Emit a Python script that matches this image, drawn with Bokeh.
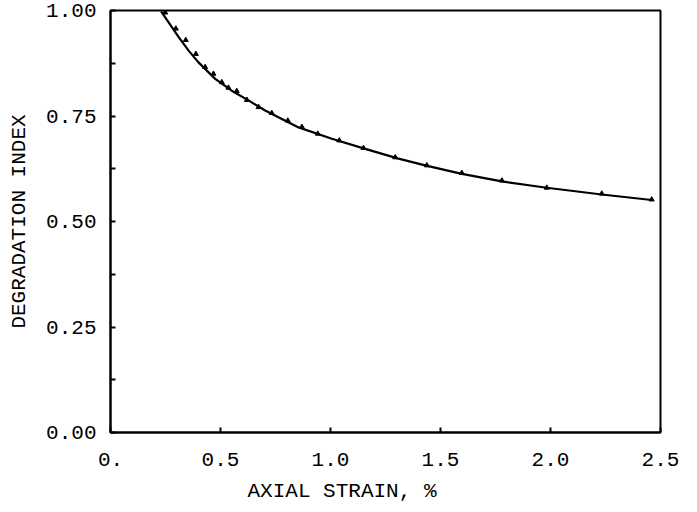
from bokeh.plotting import figure
from bokeh.models import FixedTicker, Range1d, Title
from bokeh.embed import file_html
from bokeh.resources import INLINE

# Curve (fitted line)
curve_x = [0.23, 0.31, 0.355, 0.40, 0.476, 0.551, 0.627, 0.703, 0.855, 1.006,
           1.158, 1.309, 1.43, 1.597, 1.779, 1.983, 2.233, 2.46]
curve_y = [0.998, 0.937, 0.905, 0.877, 0.838, 0.810, 0.787, 0.763, 0.723, 0.696,
           0.672, 0.649, 0.633, 0.613, 0.595, 0.580, 0.564, 0.551]

# Measured points (small marks on the curve)
pts_x = [0.249, 0.297, 0.342, 0.388, 0.43, 0.468, 0.506, 0.536, 0.574, 0.62,
         0.673, 0.733, 0.806, 0.87, 0.942, 1.04, 1.15, 1.294, 1.438, 1.597,
         1.779, 1.983, 2.233, 2.46]
pts_y = [0.995, 0.957, 0.93, 0.897, 0.866, 0.850, 0.830, 0.817, 0.809, 0.788,
         0.771, 0.757, 0.739, 0.724, 0.708, 0.692, 0.674, 0.652, 0.633, 0.615,
         0.597, 0.580, 0.566, 0.552]

x_ticks = [0.0, 0.5, 1.0, 1.5, 2.0, 2.5]
x_tick_labels = ["0.", "0.5", "1.0", "1.5", "2.0", "2.5"]
y_ticks = [0.0, 0.25, 0.5, 0.75, 1.0]
y_minor = [0.125, 0.375, 0.625, 0.875]
y_tick_labels = ["0.00", "0.25", "0.50", "0.75", "1.00"]

FONT = "Liberation Mono"

p = figure(width=689, height=512, output_backend="svg", toolbar_location=None,
           x_range=Range1d(0, 2.5), y_range=Range1d(0, 1.0),
           min_border_left=110, min_border_right=29, min_border_top=10,
           min_border_bottom=80)
p.background_fill_color = "white"
p.border_fill_color = "white"
p.xgrid.visible = False
p.ygrid.visible = False
p.outline_line_color = "black"
p.outline_line_width = 2

p.line(curve_x, curve_y, line_color="black", line_width=2.2)
p.scatter(pts_x, pts_y, marker="triangle", size=5, color="black")

xa = p.xaxis[0]
xa.ticker = FixedTicker(ticks=x_ticks, minor_ticks=[])
xa.major_label_overrides = {t: l for t, l in zip(x_ticks, x_tick_labels)}
xa.major_tick_in = 5
xa.major_tick_out = 0
xa.minor_tick_in = 0
xa.minor_tick_out = 0
xa.axis_line_width = 2
xa.major_tick_line_width = 2
xa.major_label_standoff = 20
xa.major_label_text_font = FONT
xa.major_label_text_font_size = "21px"
xa.major_label_text_color = "black"

ya = p.yaxis[0]
ya.ticker = FixedTicker(ticks=y_ticks, minor_ticks=y_minor)
ya.major_label_overrides = {t: l for t, l in zip(y_ticks, y_tick_labels)}
ya.major_tick_in = 5
ya.major_tick_out = 0
ya.minor_tick_in = 5
ya.minor_tick_out = 0
ya.axis_line_width = 2
ya.major_tick_line_width = 2
ya.minor_tick_line_width = 2
ya.minor_tick_line_color = "black"
ya.major_label_standoff = 14
ya.major_label_text_font = FONT
ya.major_label_text_font_size = "21px"
ya.major_label_text_color = "black"
ya.axis_label = "DEGRADATION INDEX"
ya.axis_label_text_font = FONT
ya.axis_label_text_font_size = "21px"
ya.axis_label_text_font_style = "normal"
ya.axis_label_text_color = "black"
ya.axis_label_standoff = 12

xtitle = Title(text="AXIAL STRAIN, %", align="left", offset=137,
               text_font=FONT, text_font_size="21px", text_font_style="normal",
               text_color="black", standoff=18, vertical_align="bottom")
p.add_layout(xtitle, "below")

open("out.html", "w").write(file_html(p, INLINE))
